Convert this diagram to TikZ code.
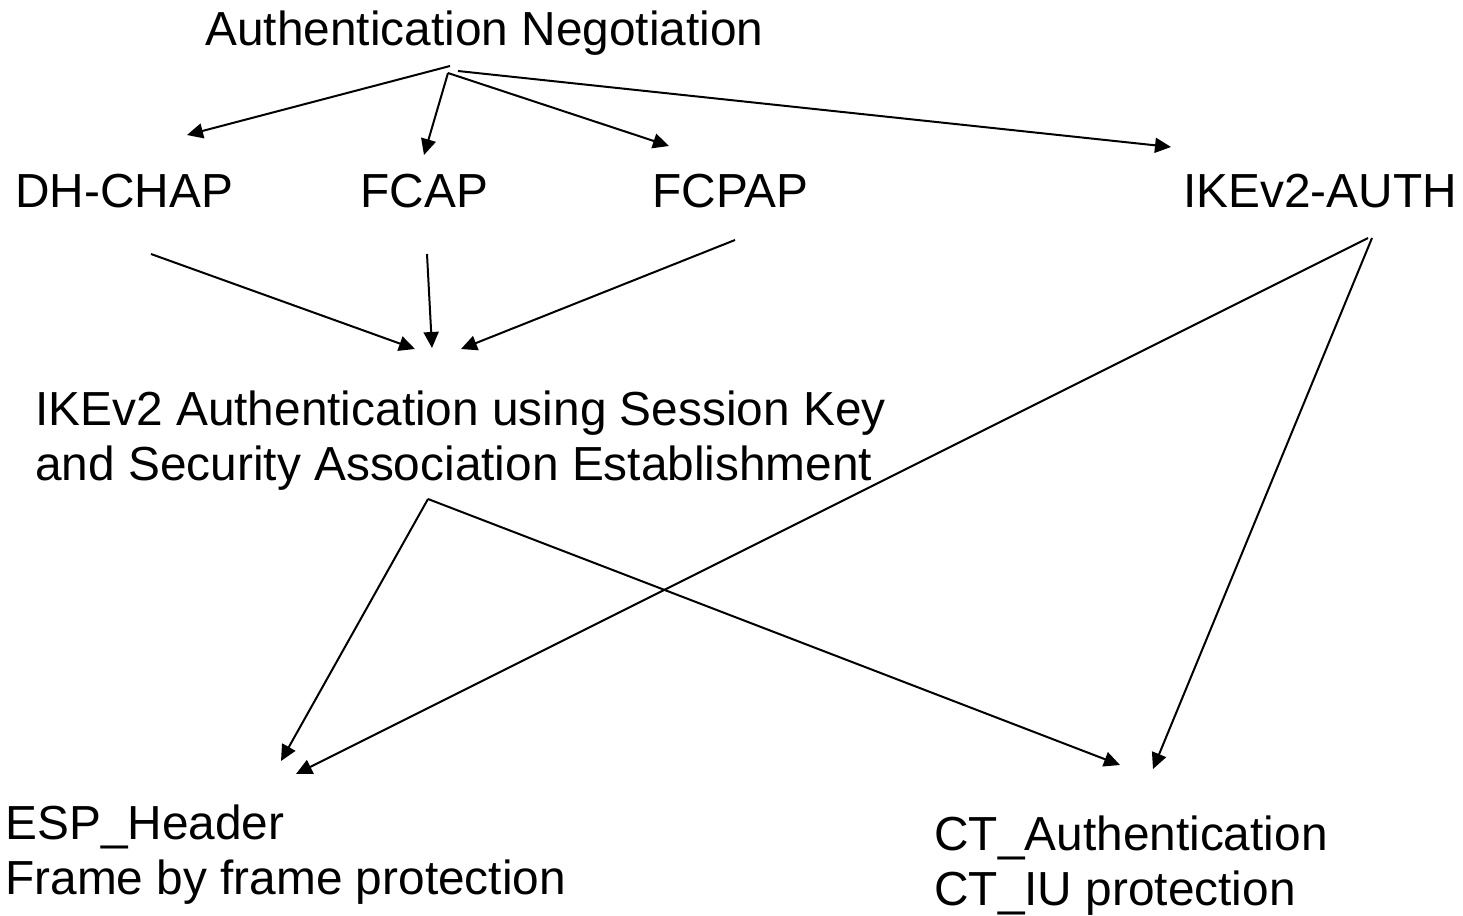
\documentclass[tikz,border=0pt]{standalone}
\usepackage{fontspec}
\setmainfont{Liberation Sans}
\usetikzlibrary{arrows.meta}
\begin{document}
\begin{tikzpicture}[x=0.5pt,y=-0.5pt,
  lbl/.style={inner sep=0pt, anchor=base west, align=left,
    font=\fontsize{23.9pt}{27.5pt}\selectfont},
  conn/.style={line width=1pt, -{Triangle[length=8pt,width=7.5pt]}}]
\path[use as bounding box, fill=white] (0,0) rectangle (1463,916);

% labels (multi-line nodes: base = baseline of last line)
\node[lbl] (neg) at (205,45) {Authentication Negotiation};
\node[lbl] (dh) at (15,207) {DH-CHAP};
\node[lbl] (fcap) at (360,207) {FCAP};
\node[lbl] (fcpap) at (652,207) {FCPAP};
\node[lbl] (ikeauth) at (1183,207) {IKEv2-AUTH};
\node[lbl] (ike) at (35,480) {IKEv2 Authentication using Session Key\\and Security Association Establishment};
\node[lbl] (esp) at (5,894) {ESP\_Header\\Frame by frame protection};
\node[lbl] (ct) at (934,905) {CT\_Authentication\\CT\_IU protection};

% connector end points
\coordinate (n1) at (450,66);
\coordinate (n2) at (448,73);
\coordinate (n4) at (458,71);
\coordinate (tdh) at (187,135);
\coordinate (tfcap) at (424,155);
\coordinate (tfcpap) at (669,146);
\coordinate (tikeauth) at (1171,147);
\coordinate (sdh) at (151,254);
\coordinate (sfcap) at (427,254);
\coordinate (sfcpap) at (735,240);
\coordinate (ta) at (415,349);
\coordinate (tb) at (432,348);
\coordinate (tc) at (461,349);
\coordinate (sike) at (428,499);
\coordinate (sia1) at (1368,238);
\coordinate (sia2) at (1372,238);
\coordinate (tesp1) at (281,761);
\coordinate (tesp2) at (296,774);
\coordinate (tct1) at (1120,765);
\coordinate (tct2) at (1153,769);

\draw[conn] (n1) -- (tdh);
\draw[conn] (n2) -- (tfcap);
\draw[conn] (n2) -- (tfcpap);
\draw[conn] (n4) -- (tikeauth);
\draw[conn] (sdh) -- (ta);
\draw[conn] (sfcap) -- (tb);
\draw[conn] (sfcpap) -- (tc);
\draw[conn] (sike) -- (tesp1);
\draw[conn] (sike) -- (tct1);
\draw[conn] (sia1) -- (tesp2);
\draw[conn] (sia2) -- (tct2);
\end{tikzpicture}
\end{document}
